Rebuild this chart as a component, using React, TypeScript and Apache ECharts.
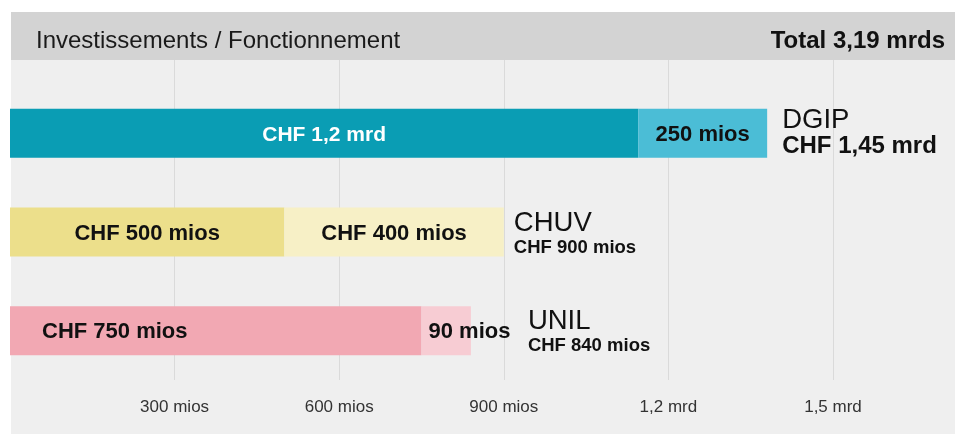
import React, { useEffect, useRef } from "react";
import * as echarts from "echarts";

const categories = ["DGIP", "CHUV", "UNIL"];
const investValues = [1145, 500, 750];
const foncValues = [235, 400, 90];
const investLabels = ["CHF 1,2 mrd", "CHF 500 mios", "CHF 750 mios"];
const foncLabels = ["250 mios", "CHF 400 mios", "90 mios"];
const totalLabels = ["CHF 1,45 mrd", "CHF 900 mios", "CHF 840 mios"];
const tickValues = [300, 600, 900, 1200, 1500];
const tickLabels = ["300 mios", "600 mios", "900 mios", "1,2 mrd", "1,5 mrd"];
const headerLeft = "Investissements / Fonctionnement";
const headerRight = "Total 3,19 mrds";

const investColors = ["#0a9db4", "#ecdf8b", "#f2a8b3"];
const foncColors = ["#4bbdd6", "#f7f0c6", "#f7ccd3"];

const FONT = "Liberation Sans, Arial, sans-serif";

export default function App() {
  const ref = useRef<HTMLDivElement>(null);
  useEffect(() => {
    document.body.style.margin = "0";
    const chart = echarts.init(ref.current!, null, { renderer: "svg" });
    const xMin = 0;
    const xMax = 1500;
    const gridPos = { left: 10, right: 122 };

    const investLabelCfg = [
      { position: "inside", color: "#ffffff", fontSize: 21 },
      { position: "inside", color: "#111111", fontSize: 22 },
      { position: "insideLeft", distance: 32, color: "#111111", fontSize: 22 },
    ];
    const foncLabelCfg = [
      { position: "inside", color: "#111111", fontSize: 22 },
      { position: "inside", color: "#111111", fontSize: 22 },
      { position: "insideLeft", distance: 7, color: "#111111", fontSize: 22 },
    ];
    const endDistance = [15, 10, 57];
    const endOffsets = [[0, -3], [0, 0], [0, 0]];
    const valueStyleKey = ["vb", "vs", "vs"];

    chart.setOption({
      animation: false,
      textStyle: { fontFamily: FONT },
      graphic: [
        { type: "rect", z: -10, shape: { x: 11, y: 12, width: 944, height: 422 }, style: { fill: "#efefef" }, silent: true },
        { type: "rect", z: -9, shape: { x: 11, y: 12, width: 944, height: 48 }, style: { fill: "#d3d3d3" }, silent: true },
        {
          type: "text", x: 36, y: 39, z: 10,
          style: { text: headerLeft, fontSize: 24, fontFamily: FONT, fill: "#1a1a1a", verticalAlign: "middle", align: "left" },
        },
        {
          type: "text", x: 945, y: 39, z: 10,
          style: { text: headerRight, fontSize: 24, fontWeight: "bold", fontFamily: FONT, fill: "#111111", verticalAlign: "middle", align: "right" },
        },
      ],
      grid: [
        { ...gridPos, top: 84, bottom: 54 },
        { ...gridPos, top: 60, bottom: 54 },
      ],
      xAxis: [
        {
          type: "value", gridIndex: 0, min: xMin, max: xMax, interval: 300,
          show: false,
        },
        {
          type: "value", gridIndex: 1, min: xMin, max: xMax, interval: 300,
          axisLine: { show: false }, axisTick: { show: false },
          splitLine: { show: true, showMinLine: false, lineStyle: { color: "#dadada", width: 1 } },
          axisLabel: {
            margin: 18, fontSize: 17, color: "#333333", fontFamily: FONT,
            formatter: (v: number) => {
              const i = tickValues.indexOf(v);
              return i >= 0 ? tickLabels[i] : "";
            },
          },
        },
      ],
      yAxis: [
        {
          type: "category", gridIndex: 0, data: categories, inverse: true,
          show: false,
        },
        { type: "value", gridIndex: 1, show: false, min: 0, max: 1 },
      ],
      series: [
        {
          type: "bar", name: "Investissements", stack: "t", barWidth: 49,
          xAxisIndex: 0, yAxisIndex: 0,
          data: investValues.map((v, i) => ({
            value: v,
            itemStyle: { color: investColors[i] },
            label: {
              show: true, ...investLabelCfg[i],
              formatter: investLabels[i], fontWeight: "bold", fontFamily: FONT,
            },
          })),
        },
        {
          type: "bar", name: "Fonctionnement", stack: "t", barWidth: 49,
          xAxisIndex: 0, yAxisIndex: 0,
          data: foncValues.map((v, i) => ({
            value: v,
            itemStyle: { color: foncColors[i] },
            label: {
              show: true, ...foncLabelCfg[i],
              formatter: foncLabels[i], fontWeight: "bold", fontFamily: FONT,
            },
          })),
        },
        {
          type: "scatter", xAxisIndex: 0, yAxisIndex: 0, symbolSize: 0, silent: true,
          itemStyle: { color: "#111111", opacity: 1 },
          data: categories.map((c, i) => ({
            value: [investValues[i] + foncValues[i], c],
            label: {
              show: true, position: "right", distance: endDistance[i], offset: endOffsets[i],
              color: "#111111", textBorderWidth: 0, opacity: 1,
              formatter: `{n|${c}}\n{${valueStyleKey[i]}|${totalLabels[i]}}`,
              rich: {
                n: { fontSize: 27.5, lineHeight: 28, color: "#111111", fontFamily: FONT },
                vb: { fontSize: 24, lineHeight: 24, fontWeight: "bold", color: "#111111", fontFamily: FONT },
                vs: { fontSize: 18.5, lineHeight: 22, fontWeight: "bold", color: "#111111", fontFamily: FONT },
              },
            },
          })),
        },
      ],
    });
    return () => chart.dispose();
  }, []);
  return <div ref={ref} style={{ position: "fixed", left: 0, top: 0, width: 955, height: 434 }} />;
}
